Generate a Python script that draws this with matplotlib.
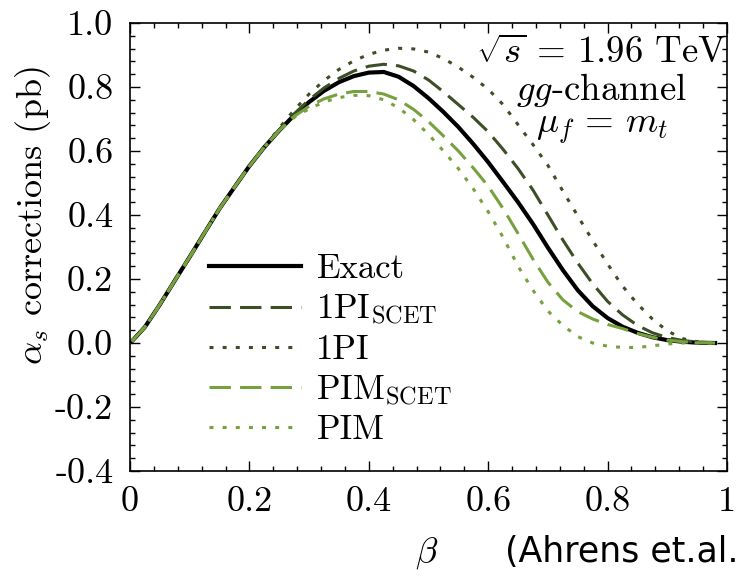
import matplotlib
matplotlib.use("Agg")
import matplotlib.pyplot as plt
from matplotlib.ticker import MultipleLocator, FuncFormatter

plt.rcParams['font.family'] = 'cmr10'
plt.rcParams['mathtext.fontset'] = 'cm'
plt.rcParams['axes.unicode_minus'] = False
plt.rcParams['axes.formatter.use_mathtext'] = True

beta = [0.003, 0.025, 0.05, 0.075, 0.1, 0.125, 0.15, 0.175, 0.2, 0.225,
        0.25, 0.275, 0.3, 0.325, 0.35, 0.375, 0.4, 0.425, 0.45, 0.475,
        0.5, 0.525, 0.55, 0.575, 0.6, 0.625, 0.65, 0.675, 0.7, 0.725,
        0.75, 0.775, 0.8, 0.825, 0.85, 0.875, 0.9, 0.925, 0.95, 0.98]

exact = [0.005, 0.05, 0.12, 0.195, 0.269, 0.345, 0.42, 0.487, 0.553, 0.612,
         0.664, 0.712, 0.753, 0.788, 0.815, 0.834, 0.845, 0.847, 0.832, 0.803,
         0.765, 0.722, 0.675, 0.622, 0.565, 0.503, 0.44, 0.372, 0.298, 0.228,
         0.165, 0.115, 0.078, 0.051, 0.032, 0.018, 0.009, 0.004, 0.001, 0.0]

pi1_scet = [0.005, 0.05, 0.12, 0.195, 0.269, 0.345, 0.42, 0.487, 0.553, 0.612,
            0.665, 0.716, 0.760, 0.797, 0.827, 0.850, 0.865, 0.871, 0.866, 0.850,
            0.822, 0.785, 0.745, 0.705, 0.66, 0.605, 0.545, 0.478, 0.40, 0.322,
            0.25, 0.185, 0.13, 0.088, 0.055, 0.032, 0.017, 0.008, 0.003, 0.0]

pi1 = [0.005, 0.05, 0.12, 0.195, 0.269, 0.345, 0.42, 0.487, 0.553, 0.612,
       0.672, 0.728, 0.778, 0.82, 0.855, 0.882, 0.902, 0.915, 0.921, 0.919,
       0.909, 0.889, 0.862, 0.83, 0.793, 0.745, 0.682, 0.62, 0.555, 0.475,
       0.397, 0.32, 0.247, 0.178, 0.122, 0.075, 0.038, 0.014, 0.004, 0.0]

pim_scet = [0.005, 0.05, 0.12, 0.195, 0.269, 0.345, 0.42, 0.487, 0.553, 0.612,
            0.664, 0.708, 0.740, 0.763, 0.778, 0.786, 0.786, 0.778, 0.760, 0.730,
            0.692, 0.647, 0.600, 0.547, 0.49, 0.42, 0.342, 0.262, 0.19, 0.135,
            0.098, 0.075, 0.058, 0.045, 0.030, 0.018, 0.009, 0.004, 0.001, 0.0]

pim = [0.005, 0.05, 0.12, 0.195, 0.269, 0.345, 0.42, 0.487, 0.553, 0.612,
       0.664, 0.705, 0.732, 0.753, 0.767, 0.774, 0.773, 0.76, 0.735, 0.698,
       0.652, 0.60, 0.545, 0.482, 0.41, 0.33, 0.24, 0.165, 0.10, 0.055,
       0.02, 0.0, -0.01, -0.014, -0.014, -0.009, -0.003, 0.0, 0.0, 0.0]

labels = ['Exact', r'1PI$_{\mathrm{SCET}}$', '1PI', r'PIM$_{\mathrm{SCET}}$', 'PIM']
xticks = [0, 0.2, 0.4, 0.6, 0.8, 1.0]
yticks = [-0.4, -0.2, 0.0, 0.2, 0.4, 0.6, 0.8, 1.0]

dark = '#3c4e25'
light = '#77a13f'

fig = plt.figure(figsize=(7.5, 5.84), dpi=100)
ax = fig.add_axes([130/750, 1-471/584, 597/750, 448/584])

ax.plot(beta, exact, color='black', lw=3.0, label=labels[0])
ax.plot(beta, pi1_scet, color=dark, lw=2.2, dashes=(7, 3), label=labels[1])
ax.plot(beta, pi1, color=dark, lw=2.2, dashes=(1.3, 3), label=labels[2])
ax.plot(beta, pim_scet, color=light, lw=2.2, dashes=(7, 3), label=labels[3])
ax.plot(beta, pim, color=light, lw=2.2, dashes=(1.3, 3), label=labels[4])

ax.set_xlim(0, 1)
ax.set_ylim(-0.4, 1.0)
ax.set_xticks(xticks)
ax.set_yticks(yticks)
ax.xaxis.set_minor_locator(MultipleLocator(0.04))
ax.yaxis.set_minor_locator(MultipleLocator(0.04))
ax.xaxis.set_major_formatter(FuncFormatter(lambda v, p: '%g' % v if v in (0, 1) else '%.1f' % v))
ax.yaxis.set_major_formatter(FuncFormatter(lambda v, p: ('%.1f' % v).replace('-0.0', '0.0')))
ax.tick_params(which='both', direction='in', top=True, right=True, labelsize=26, width=1.0)
ax.tick_params(which='major', length=7)
ax.tick_params(which='minor', length=3.5)
ax.tick_params(axis='x', pad=11)
ax.tick_params(axis='y', pad=12)
for s in ax.spines.values():
    s.set_linewidth(1.2)

ax.set_xlabel(r'$\beta$', fontsize=26, va='center')
ax.xaxis.set_label_coords((427-130)/597, (471-553)/448)
ax.set_ylabel(r'$\alpha_s$ corrections (pb)', fontsize=26, va='center')
ax.yaxis.set_label_coords((33-130)/597, (471-216)/448)

leg = ax.legend(loc='upper left', bbox_to_anchor=(0.132, 0.485), frameon=False,
                fontsize=25, handlelength=2.65, handletextpad=0.45,
                labelspacing=0.2, borderpad=0, borderaxespad=0)

ax.text(0.79, 1-(63-23)/448, r'$\sqrt{s}\,=\,1.96$ TeV', transform=ax.transAxes,
        ha='center', va='baseline', fontsize=26.5)
ax.text(0.79, 1-(100-23)/448, r'$gg$-channel', transform=ax.transAxes,
        ha='center', va='baseline', fontsize=26.5)
ax.text(0.79, 1-(133-23)/448, r'$\mu_f\,=\,m_t$', transform=ax.transAxes,
        ha='center', va='baseline', fontsize=26.5)

fig.text(505/750, 1-562/584, '(Ahrens et.al.', family='DejaVu Sans', fontsize=25,
         ha='left', va='baseline')

fig.savefig('out.png', dpi=100)
